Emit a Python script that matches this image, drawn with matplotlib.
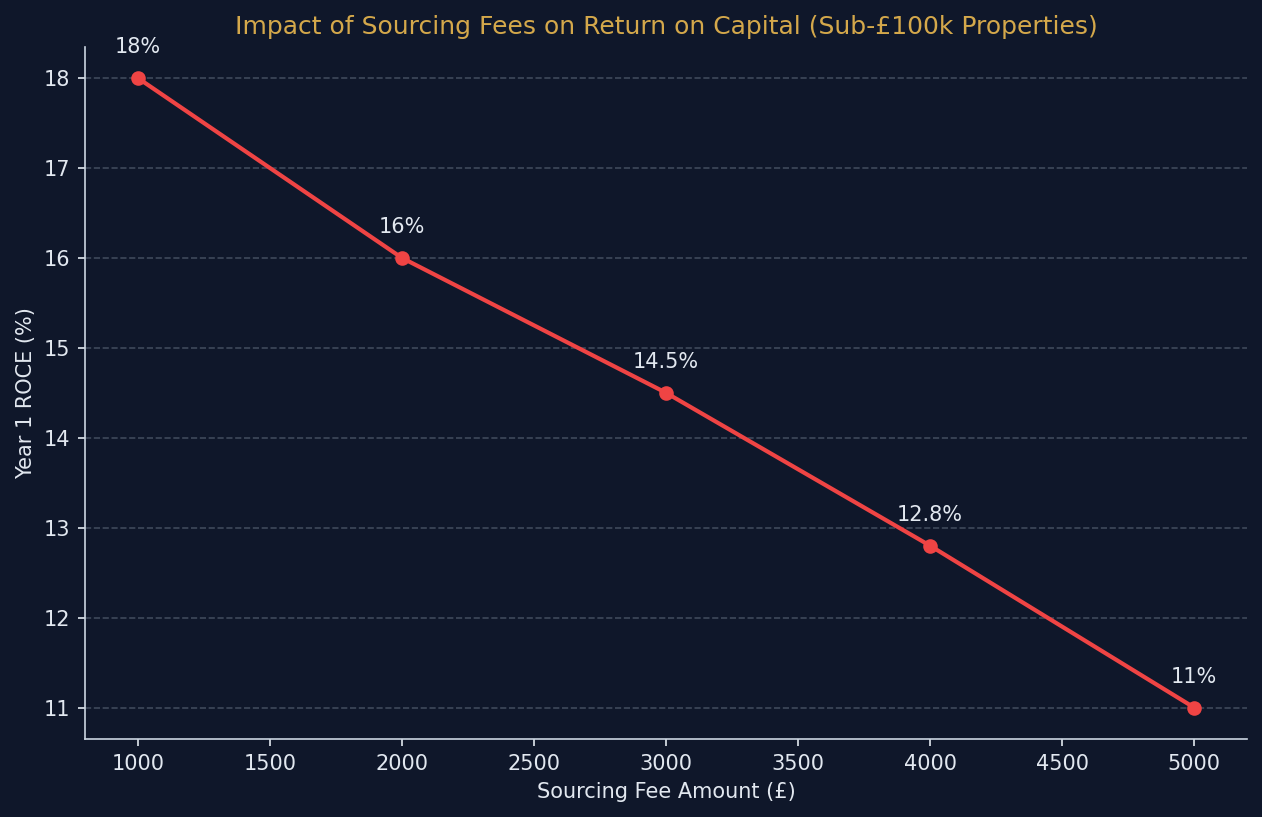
import matplotlib
matplotlib.use('Agg')
import matplotlib.pyplot as plt

# Data
fees = [1000, 2000, 3000, 4000, 5000]
roce = [18, 16, 14.5, 12.8, 11]
labels = ['18%', '16%', '14.5%', '12.8%', '11%']

bg = '#0f172a'
txt = '#e2e8f0'

fig, ax = plt.subplots(figsize=(1262 / 150, 817 / 150), dpi=150)
fig.patch.set_facecolor(bg)
ax.set_facecolor(bg)

ax.plot(fees, roce, color='#ef4444', linewidth=2, marker='o', markersize=6)

# value labels above points
for x, y, lab in zip(fees, roce, labels):
    ax.annotate(lab, (x, y), xytext=(0, 10), textcoords='offset points',
                ha='center', va='bottom', color=txt, fontsize=10)

ax.set_title('Impact of Sourcing Fees on Return on Capital (Sub-£100k Properties)',
             color='#d4a84b', fontsize=12)
ax.set_xlabel('Sourcing Fee Amount (£)', color=txt, fontsize=10)
ax.set_ylabel('Year 1 ROCE (%)', color=txt, fontsize=10)

ax.grid(axis='y', linestyle='--', color='#4b5567', alpha=0.8, linewidth=0.8)
ax.tick_params(colors=txt, labelsize=10)
for side in ['top', 'right']:
    ax.spines[side].set_visible(False)
for side in ['left', 'bottom']:
    ax.spines[side].set_color('#cbd5e1')

fig.subplots_adjust(left=0.0674, right=0.988, top=0.943, bottom=0.0955)
fig.savefig('out.png', dpi=150, facecolor=bg)
